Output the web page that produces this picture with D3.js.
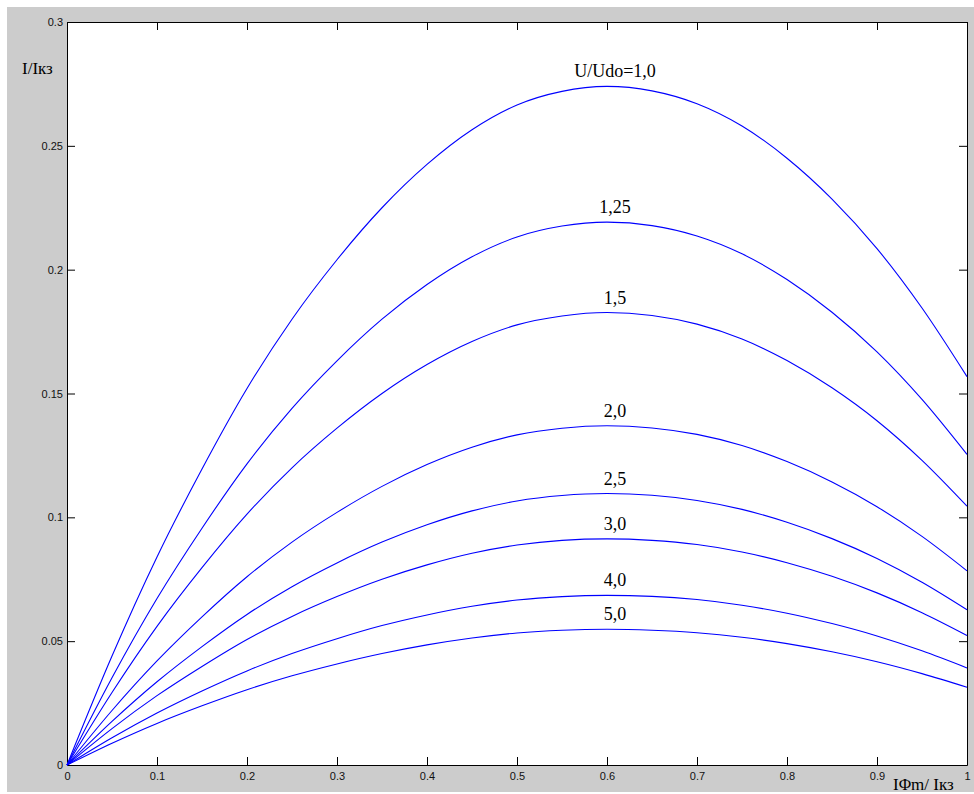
<!DOCTYPE html>
<html>
<head>
<meta charset="utf-8">
<script src="https://cdn.jsdelivr.net/npm/d3@7"></script>
<style>
  body { margin: 0; background: #fff; }
  .tick text { font-family: Arial, "Liberation Sans", sans-serif; font-size: 11px; }
  .label { font-family: "Times New Roman", "Liberation Serif", serif; fill: #000; }
</style>
</head>
<body>
<svg width="974" height="794"></svg>
<script>
// data
var xValues = [0, 0.05, 0.1, 0.15, 0.2, 0.25, 0.3, 0.35, 0.4, 0.45, 0.5, 0.55, 0.6, 0.65, 0.7, 0.75, 0.8, 0.85, 0.9, 0.95, 1];

var u10  = [0, 0.0440, 0.0840, 0.1195, 0.1520, 0.1800, 0.2040, 0.2250, 0.2425, 0.2565, 0.2665, 0.2720, 0.2740, 0.2722, 0.2670, 0.2580, 0.2450, 0.2285, 0.2085, 0.1845, 0.1568];
var u125 = [0, 0.0352, 0.0672, 0.0956, 0.1216, 0.1440, 0.1632, 0.1800, 0.1940, 0.2052, 0.2132, 0.2176, 0.2192, 0.2178, 0.2136, 0.2064, 0.1960, 0.1828, 0.1668, 0.1476, 0.1254];
var u15  = [0, 0.0293, 0.0560, 0.0797, 0.1013, 0.1200, 0.1360, 0.1500, 0.1617, 0.1710, 0.1777, 0.1813, 0.1827, 0.1815, 0.1780, 0.1720, 0.1633, 0.1523, 0.1390, 0.1230, 0.1045];
var u20  = [0, 0.0220, 0.0420, 0.0598, 0.0760, 0.0900, 0.1020, 0.1125, 0.1213, 0.1283, 0.1333, 0.1360, 0.1370, 0.1361, 0.1335, 0.1290, 0.1225, 0.1143, 0.1043, 0.0923, 0.0784];
var u25  = [0, 0.0176, 0.0336, 0.0478, 0.0608, 0.0720, 0.0816, 0.0900, 0.0970, 0.1026, 0.1066, 0.1088, 0.1096, 0.1089, 0.1068, 0.1032, 0.0980, 0.0914, 0.0834, 0.0738, 0.0627];
var u30  = [0, 0.0147, 0.0280, 0.0398, 0.0507, 0.0600, 0.0680, 0.0750, 0.0808, 0.0855, 0.0888, 0.0907, 0.0913, 0.0907, 0.0890, 0.0860, 0.0817, 0.0762, 0.0695, 0.0615, 0.0523];
var u40  = [0, 0.0110, 0.0210, 0.0299, 0.0380, 0.0450, 0.0510, 0.0563, 0.0606, 0.0641, 0.0666, 0.0680, 0.0685, 0.0681, 0.0668, 0.0645, 0.0613, 0.0571, 0.0521, 0.0461, 0.0392];
var u50  = [0, 0.0088, 0.0168, 0.0239, 0.0304, 0.0360, 0.0408, 0.0450, 0.0485, 0.0513, 0.0533, 0.0544, 0.0548, 0.0544, 0.0534, 0.0516, 0.0490, 0.0457, 0.0417, 0.0369, 0.0314];

var curveLabels = ['U/Udo=1,0', '1,25', '1,5', '2,0', '2,5', '3,0', '4,0', '5,0'];
var xTicks = [0, 0.1, 0.2, 0.3, 0.4, 0.5, 0.6, 0.7, 0.8, 0.9, 1];
var yTicks = [0, 0.05, 0.1, 0.15, 0.2, 0.25, 0.3];

document.addEventListener('DOMContentLoaded', () => {
    var left = 67, right = 967, top = 22, bottom = 765;
    var svg = d3.select('svg');

    var series = [u10, u125, u15, u20, u25, u30, u40, u50].map((vals, i) => ({
        label: curveLabels[i],
        points: vals.map((v, j) => ({ x: xValues[j], y: v }))
    }));

    var xScale = d3.scaleLinear().domain([0, 1]).range([left, right]);
    var yScale = d3.scaleLinear().domain([0, 0.3]).range([bottom, top]);

    // grey figure background + white axes box
    svg.append('rect')
        .attr('x', 7).attr('y', 7)
        .attr('width', 967).attr('height', 785)
        .attr('fill', '#cccccc');

    svg.append('rect')
        .attr('x', left).attr('y', top)
        .attr('width', right - left).attr('height', bottom - top)
        .attr('fill', '#fff');

    var fmt = d => d === 0 ? '0' : d3.format('')(d);

    // axes, ticks pointing inward like matlab
    var xAxis = d3.axisBottom(xScale).tickValues(xTicks).tickFormat(fmt)
                  .tickSizeInner(-8).tickSizeOuter(0).tickPadding(7);
    var xAxisTop = d3.axisTop(xScale).tickValues(xTicks).tickFormat('')
                  .tickSizeInner(-8).tickSizeOuter(0);
    var yAxis = d3.axisLeft(yScale).tickValues(yTicks).tickFormat(fmt)
                  .tickSizeInner(-8).tickSizeOuter(0).tickPadding(4);
    var yAxisRight = d3.axisRight(yScale).tickValues(yTicks).tickFormat('')
                  .tickSizeInner(-8).tickSizeOuter(0);

    svg.append('g').attr('transform', 'translate(0,' + bottom + ')').call(xAxis);
    svg.append('g').attr('transform', 'translate(0,' + top + ')').call(xAxisTop);
    svg.append('g').attr('transform', 'translate(' + left + ',0)').call(yAxis);
    svg.append('g').attr('transform', 'translate(' + right + ',0)').call(yAxisRight);

    svg.selectAll('.domain').attr('stroke', '#000');
    svg.selectAll('.tick line').attr('stroke', '#000');
    svg.selectAll('.tick text').attr('fill', '#111');

    // curves
    var line = d3.line()
        .x(d => xScale(d.x))
        .y(d => yScale(d.y))
        .curve(d3.curveMonotoneX);

    svg.append('g')
        .selectAll('path')
        .data(series)
        .enter()
        .append('path')
            .attr('d', d => line(d.points))
            .attr('fill', 'none')
            .attr('stroke', '#0000ff')
            .attr('stroke-width', 1.1);

    // labels above each peak
    svg.append('g')
        .selectAll('text')
        .data(series)
        .enter()
        .append('text')
            .classed('label', true)
            .attr('text-anchor', 'middle')
            .attr('font-size', 18)
            .attr('x', d => xScale(d3.greatest(d.points, p => p.y).x) + 8)
            .attr('y', d => yScale(d3.max(d.points, p => p.y)) - 9)
            .text(d => d.label);

    // axis titles
    svg.append('text')
        .classed('label', true)
        .attr('font-size', 17)
        .attr('x', 22)
        .attr('y', 74)
        .text('I/Iкз');

    svg.append('text')
        .classed('label', true)
        .attr('font-size', 17)
        .attr('x', 893)
        .attr('y', 790)
        .text('IΦm/ Iкз');
})
</script>
</body>
</html>
